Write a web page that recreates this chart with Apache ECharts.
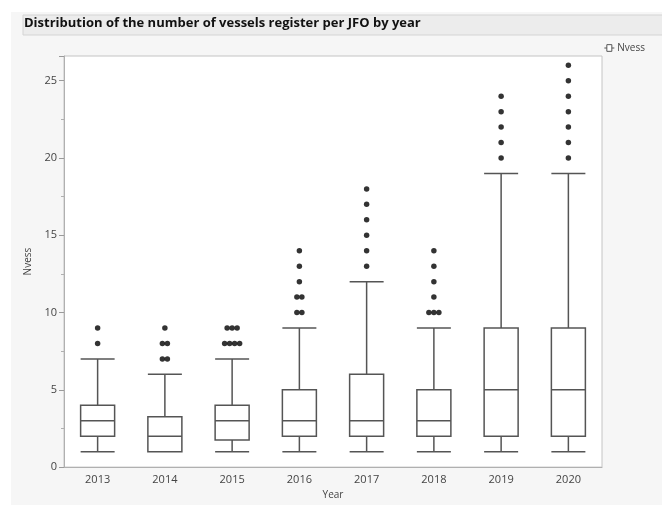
<!DOCTYPE html>
<html>
<head>
<meta charset="utf-8">
<script src="https://cdn.jsdelivr.net/npm/echarts@6/dist/echarts.min.js"></script>
<style>
    html, body { margin: 0; padding: 0; background: #ffffff; }
    #chart { width: 662px; height: 505px; }
</style>
</head>
<body>
<div id="chart"></div>
<script>
const years = ["2013", "2014", "2015", "2016", "2017", "2018", "2019", "2020"];
const lowWhisker = [1, 1, 1, 1, 1, 1, 1, 1];
const q1 = [2, 1, 1.75, 2, 2, 2, 2, 2];
const medians = [3, 2, 3, 3, 3, 3, 5, 5];
const q3 = [4, 3.25, 4, 5, 6, 5, 9, 9];
const highWhisker = [7, 6, 7, 9, 12, 9, 19, 19];
const outliers = [
    [8, 9],
    [7, 7, 8, 8, 9],
    [8, 8, 8, 8, 9, 9, 9],
    [10, 10, 11, 11, 12, 13, 14],
    [13, 14, 15, 16, 17, 18],
    [10, 10, 10, 11, 12, 13, 14],
    [20, 21, 22, 23, 24],
    [20, 21, 22, 23, 24, 25, 26]
];
const yTicks = [0, 5, 10, 15, 20, 25];

const boxData = years.map((y, i) => [lowWhisker[i], q1[i], medians[i], q3[i], highWhisker[i]]);

// repeated outliers sit side by side, like the jitter in the original
const dotGap = 5;
const outlierData = [];
outliers.forEach((vals, i) => {
    const counts = {};
    vals.forEach(v => { counts[v] = (counts[v] || 0) + 1; });
    const seen = {};
    vals.forEach(v => {
        const k = seen[v] || 0;
        seen[v] = k + 1;
        const dx = (k - (counts[v] - 1) / 2) * dotGap;
        outlierData.push({ value: [i, v], symbolOffset: [dx, 0] });
    });
});

const labelFont = "'Open Sans', 'Noto Sans', sans-serif";
const chart = echarts.init(document.getElementById("chart"));
chart.setOption({
    backgroundColor: "#ffffff",
    animation: false,
    graphic: [
        {
            type: "rect", z: -10, silent: true,
            shape: { x: 11, y: 12, width: 651, height: 493 },
            style: { fill: "#f6f6f6" }
        },
        {
            type: "rect", z: -5, silent: true,
            shape: { x: 23, y: 15, width: 650, height: 20 },
            style: { fill: "#ececec", stroke: "#d4d4d4", lineWidth: 1 }
        }
    ],
    title: {
        text: "Distribution of the number of vessels register per JFO by year",
        left: 24,
        top: 17,
        padding: 0,
        textStyle: {
            fontFamily: labelFont,
            fontWeight: "bold",
            fontSize: 13,
            color: "#111"
        }
    },
    legend: {
        data: ["Nvess"],
        right: 12,
        top: 38,
        itemWidth: 10,
        itemHeight: 8,
        itemGap: 4,
        icon: "path://M0,5 L3,5 M3,1 L9,1 L9,9 L3,9 Z M9,5 L12,5",
        itemStyle: { color: "#ffffff", borderColor: "#555", borderWidth: 1 },
        textStyle: { fontFamily: labelFont, fontSize: 10, color: "#444", padding: [0, 0, 0, -2] }
    },
    grid: {
        left: 64,
        right: 60,
        top: 56,
        bottom: 33,
        show: true,
        backgroundColor: "#ffffff",
        borderColor: "#c4c4c4",
        borderWidth: 1
    },
    xAxis: {
        type: "category",
        data: years,
        name: "Year",
        nameLocation: "middle",
        nameGap: 19,
        nameTextStyle: { fontFamily: labelFont, fontSize: 10, color: "#444" },
        axisLine: { lineStyle: { color: "#b0b0b0" } },
        axisTick: { show: false },
        axisLabel: { fontFamily: labelFont, fontSize: 11, color: "#444", margin: 7 },
        splitLine: { show: false }
    },
    yAxis: {
        type: "value",
        min: 0,
        max: 26.6,
        interval: 5,
        name: "Nvess",
        nameLocation: "middle",
        nameGap: 27,
        nameTextStyle: { fontFamily: labelFont, fontSize: 10, color: "#444" },
        axisLine: { show: true, lineStyle: { color: "#b0b0b0" } },
        axisTick: { show: true, length: 5, lineStyle: { color: "#9a9a9a" } },
        minorTick: { show: true, splitNumber: 2, length: 3, lineStyle: { color: "#b0b0b0" } },
        axisLabel: {
            fontFamily: labelFont, fontSize: 11, color: "#444", margin: 7,
            showMaxLabel: false,
            formatter: v => (yTicks.indexOf(v) >= 0 ? String(v) : "")
        },
        splitLine: { show: false }
    },
    series: [
        {
            name: "Nvess",
            type: "boxplot",
            data: boxData,
            boxWidth: [34, 34],
            itemStyle: { color: "#ffffff", borderColor: "#555555", borderWidth: 1.5 }
        },
        {
            name: "outliers",
            type: "scatter",
            data: outlierData,
            symbol: "circle",
            symbolSize: 5.5,
            itemStyle: { color: "#000000" }
        }
    ]
});
window.addEventListener("resize", () => chart.resize());
</script>
</body>
</html>
